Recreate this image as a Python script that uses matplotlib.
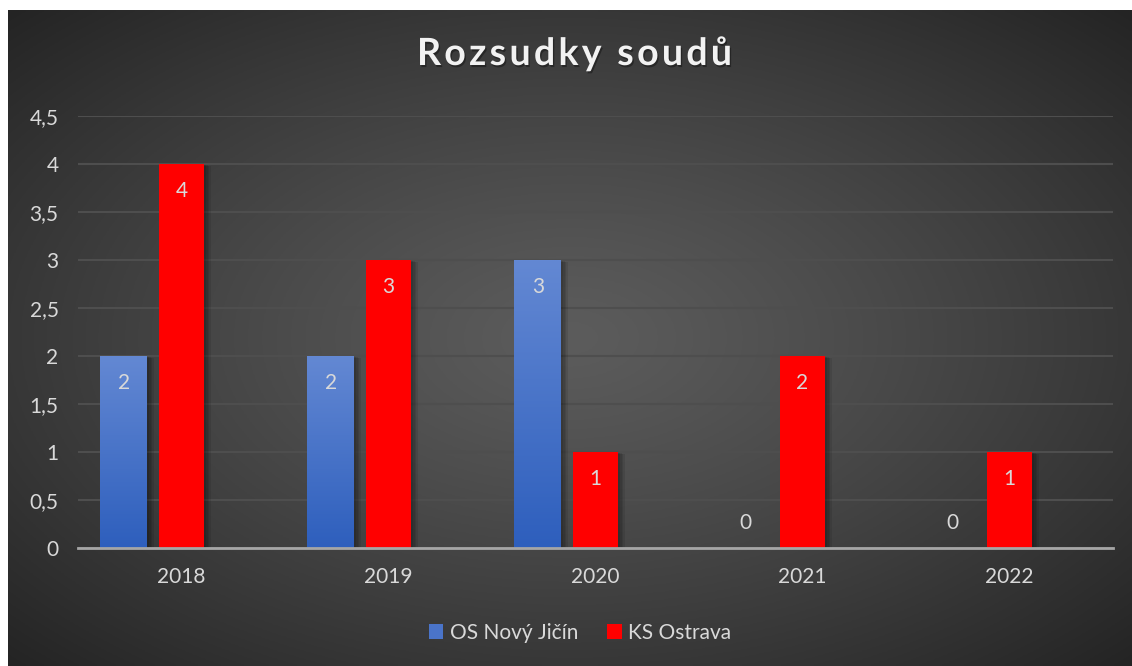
import numpy as np
import matplotlib.pyplot as plt
from matplotlib.colors import LinearSegmentedColormap
from matplotlib.patches import Rectangle
import matplotlib.patheffects as pe

# data
years = ['2018', '2019', '2020', '2021', '2022']
os_novy_jicin = [2, 2, 3, 0, 0]
ks_ostrava = [4, 3, 1, 2, 1]
yticks = [0, 0.5, 1, 1.5, 2, 2.5, 3, 3.5, 4, 4.5]
ytick_labels = ['0', '0,5', '1', '1,5', '2', '2,5', '3', '3,5', '4', '4,5']

W, H = 1132, 666
plt.rcParams['font.family'] = ['Lato', 'DejaVu Sans']
txt_col = '#d9d9d9'

fig = plt.figure(figsize=(W / 100, H / 100), dpi=100)
fig.patch.set_facecolor('white')

# dark radial background of the chart area
bg = fig.add_axes([8 / W, 0, 1 - 8 / W, (H - 10) / H])
bg.set_axis_off()
gx, gy = np.meshgrid(np.linspace(-1, 1, 400), np.linspace(-1, 1, 240))
r = np.clip(np.sqrt(gx ** 2 + gy ** 2) / np.sqrt(2), 0, 1)
val = (92 - 56 * r ** 1.2) / 255.0
bg.imshow(np.dstack([val, val, val]), aspect='auto', extent=[0, 1, 0, 1])
bg.set_xlim(0, 1)
bg.set_ylim(0, 1)

ax = fig.add_axes([78 / W, (H - 548) / H, 1035 / W, 432 / H])
ax.set_facecolor('none')

x = np.arange(len(years))
w_blue, w_red = 0.227, 0.222
off_blue = -0.278
px = 5 / 1035.0
py = 4.5 / 432.0

blue_cmap = LinearSegmentedColormap.from_list('b', ['#2e5fbd', '#6388d3'])
grad = np.linspace(0, 1, 100).reshape(-1, 1)

def shadow(x0, w, h):
    for k in range(1, 5):
        ax.add_patch(Rectangle((x0 + k * 1.6 * px, -k * 0.5 * py), w, h, facecolor='black',
                               alpha=0.09, edgecolor='none', zorder=2))

for i in range(len(years)):
    hb = os_novy_jicin[i]
    xb = x[i] + off_blue - w_blue / 2
    if hb > 0:
        shadow(xb, w_blue, hb)
        ax.imshow(grad, cmap=blue_cmap, origin='lower', aspect='auto',
                  extent=[xb, xb + w_blue, 0, hb], zorder=3)
    hr = ks_ostrava[i]
    xr = x[i] - w_red / 2
    shadow(xr, w_red, hr)
    ax.bar(x[i], hr, width=w_red, color='#ff0000', zorder=3)

ax.set_xlim(-0.5, 4.5)
ax.set_ylim(0, 4.5)

# data labels
for i in range(len(years)):
    v = os_novy_jicin[i]
    yb = v - 0.28 if v > 0 else 0.26
    ax.text(x[i] + off_blue, yb, str(v), ha='center', va='center', color=txt_col, fontsize=15, zorder=5)
    v = ks_ostrava[i]
    ax.text(x[i], v - 0.28, str(v), ha='center', va='center', color=txt_col, fontsize=15, zorder=5)

ax.set_yticks(yticks)
ax.set_yticklabels(ytick_labels)
ax.set_xticks(x)
ax.set_xticklabels(years)
ax.tick_params(axis='both', length=0, labelcolor=txt_col, labelsize=15)
ax.tick_params(axis='y', pad=14)
ax.tick_params(axis='x', pad=14)
ax.grid(axis='y', color='#4e4e4e', linewidth=1.5, zorder=0)
ax.set_axisbelow(True)
for s in ['top', 'right', 'left']:
    ax.spines[s].set_visible(False)
ax.spines['bottom'].set_color('#a6a6a6')
ax.spines['bottom'].set_linewidth(2)
ax.spines['bottom'].set_zorder(4)

# title with letter spacing
title = 'Rozsudky soudů'
tsize = 27
renderer = fig.canvas.get_renderer()

def text_w(s):
    t = fig.text(0, 0, s, fontsize=tsize, fontweight='bold')
    wd = t.get_window_extent(renderer).width
    t.remove()
    return wd

sp_w = text_w('a a') - text_w('aa')
widths = [text_w(ch) if ch != ' ' else sp_w for ch in title]
target = 315.0
track = (target - sum(widths)) / (len(title) - 1)
cx = 417.0
for ch, wd in zip(title, widths):
    if ch != ' ':
        fig.text(cx / W, (H - 65) / H, ch, fontsize=tsize, fontweight='bold', color='#f2f2f2',
                 ha='left', va='baseline',
                 path_effects=[pe.withSimplePatchShadow(offset=(1, -1.5), shadow_rgbFace='black', alpha=0.35)])
    cx += wd + track

# legend
h1 = Rectangle((0, 0), 1, 1, facecolor='#4a74c9')
h2 = Rectangle((0, 0), 1, 1, facecolor='#ff0000')
fig.legend([h1, h2], ['OS Nový Jičín', 'KS Ostrava'], loc='center',
           bbox_to_anchor=(580 / W, (H - 633) / H), ncol=2, frameon=False,
           fontsize=15, labelcolor=txt_col, handlelength=0.7, handleheight=0.7,
           handletextpad=0.3, columnspacing=1.4)

fig.savefig('out.png', dpi=100, facecolor=fig.get_facecolor())
